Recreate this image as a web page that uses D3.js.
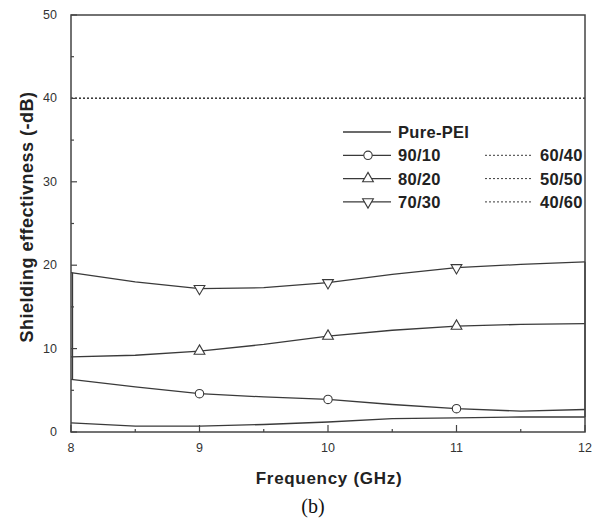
<!DOCTYPE html>
<meta charset="utf-8">
<head>
    <script src="https://d3js.org/d3.v7.min.js"></script>
    <style>
    body { margin: 0; background: #fff; }
    .curve { fill: none; stroke: #3a3a3a; stroke-width: 1.3; }
    .tick-label { font: 12.5px "Liberation Sans", Arial, sans-serif; fill: #333; }
    .axis-title { font: bold 17px "Liberation Sans", Arial, sans-serif; fill: #222; }
    .legend-text { font: bold 16.5px "Liberation Sans", Arial, sans-serif; fill: #222; }
    </style>
</head>
<body>
    <script>
    // frequency sample points (GHz)
    var freq = [8, 8.5, 9, 9.5, 10, 10.5, 11, 11.5, 12];
    var markerFreq = [9, 10, 11];

    // shielding effectiveness (-dB) for each blend
    var purePEI = [1.1, 0.7, 0.7, 0.9, 1.2, 1.6, 1.7, 1.8, 1.8];
    var s90_10 = [6.3, 5.4, 4.6, 4.2, 3.9, 3.3, 2.8, 2.5, 2.7];
    var s80_20 = [9.0, 9.2, 9.7, 10.5, 11.5, 12.2, 12.7, 12.9, 13.0];
    var s70_30 = [19.1, 18.0, 17.2, 17.3, 17.9, 18.9, 19.7, 20.1, 20.4];
    var s60_40 = [40, 40, 40, 40, 40, 40, 40, 40, 40];
    var s50_50 = [40, 40, 40, 40, 40, 40, 40, 40, 40];
    var s40_60 = [40, 40, 40, 40, 40, 40, 40, 40, 40];

    var xTicks = [8, 9, 10, 11, 12];
    var yTicks = [0, 10, 20, 30, 40, 50];

    var margin = { top: 15, right: 13, bottom: 87, left: 71 },
        width = 598 - margin.left - margin.right,
        height = 519 - margin.top - margin.bottom;

    var x = d3.scaleLinear().domain([8, 12]).range([0, width]);
    var y = d3.scaleLinear().domain([0, 50]).range([height, 0]);

    var svg = d3.select("body").append("svg")
        .attr("width", 598)
        .attr("height", 519)
        .append("g")
        .attr("transform", "translate(" + margin.left + "," + margin.top + ")");

    var line = d3.line()
        .x(function(d) { return x(d[0]); })
        .y(function(d) { return y(d[1]); });

    function pairs(vals) { return freq.map(function(f, i) { return [f, vals[i]]; }); }

    // dotted series (all sit on top of each other at 40 dB)
    [s60_40, s50_50, s40_60].forEach(function(s) {
        svg.append("path")
            .attr("class", "curve")
            .attr("stroke-dasharray", "2,2")
            .attr("stroke-width", 1)
            .attr("d", line(pairs(s)));
    });

    // solid series
    var solid = [
        { name: "Pure-PEI", vals: purePEI, marker: null },
        { name: "90/10", vals: s90_10, marker: "circle" },
        { name: "80/20", vals: s80_20, marker: "up" },
        { name: "70/30", vals: s70_30, marker: "down" }
    ];
    solid.forEach(function(s) {
        svg.append("path").attr("class", "curve").attr("d", line(pairs(s.vals)));
    });

    // the curves are joined at both ends in the original plot
    svg.append("path").attr("class", "curve")
        .attr("transform", "translate(1.5,0)")
        .attr("d", line([[8, s70_30[0]], [8, s80_20[0]], [8, s90_10[0]]]));
    svg.append("path").attr("class", "curve")
        .attr("d", line([[12, s70_30[8]], [12, s80_20[8]], [12, s90_10[8]], [12, purePEI[8]]]));

    function drawMarker(g, type, cx, cy) {
        if (type === "circle") {
            g.append("circle").attr("cx", cx).attr("cy", cy).attr("r", 4.2)
                .attr("fill", "#fff").attr("stroke", "#3a3a3a").attr("stroke-width", 1.1);
        } else if (type) {
            var sym = d3.symbol().type(d3.symbolTriangle).size(50);
            g.append("path").attr("d", sym())
                .attr("transform", "translate(" + cx + "," + cy + ")" + (type === "down" ? " rotate(180)" : ""))
                .attr("fill", "#fff").attr("stroke", "#3a3a3a").attr("stroke-width", 1.1);
        }
    }

    solid.forEach(function(s) {
        markerFreq.forEach(function(f) {
            var v = s.vals[freq.indexOf(f)];
            drawMarker(svg, s.marker, x(f), y(v));
        });
    });

    /*** axes frame ***/
    svg.append("rect")
        .attr("width", width).attr("height", height)
        .attr("fill", "none").attr("stroke", "#444").attr("stroke-width", 1.5);

    // x ticks (inward), minor every 0.5
    d3.range(8, 12.01, 0.5).forEach(function(v) {
        var major = Math.abs(v - Math.round(v)) < 1e-6;
        svg.append("line")
            .attr("x1", x(v)).attr("x2", x(v))
            .attr("y1", height).attr("y2", height - (major ? 7 : 3))
            .attr("stroke", "#444").attr("stroke-width", 1.2);
    });
    // y ticks (inward), minor every 5
    d3.range(0, 50.01, 5).forEach(function(v) {
        var major = v % 10 === 0;
        svg.append("line")
            .attr("x1", 0).attr("x2", major ? 6 : 3)
            .attr("y1", y(v)).attr("y2", y(v))
            .attr("stroke", "#444").attr("stroke-width", 1.2);
    });

    svg.selectAll(".xlab").data(xTicks).enter().append("text")
        .attr("class", "tick-label")
        .attr("x", function(d) { return x(d); })
        .attr("y", height + 20)
        .attr("text-anchor", "middle")
        .text(function(d) { return d; });

    svg.selectAll(".ylab").data(yTicks).enter().append("text")
        .attr("class", "tick-label")
        .attr("x", -14)
        .attr("y", function(d) { return y(d) + 4; })
        .attr("text-anchor", "end")
        .text(function(d) { return d; });

    /*** axis titles ***/
    svg.append("text")
        .attr("class", "axis-title")
        .attr("x", width / 2 + 1)
        .attr("y", height + 52)
        .attr("text-anchor", "middle")
        .attr("letter-spacing", "0.7")
        .text("Frequency (GHz)");

    svg.append("text")
        .attr("class", "axis-title")
        .attr("transform", "rotate(-90)")
        .attr("x", -(217 - margin.top))
        .attr("y", -38)
        .attr("text-anchor", "middle")
        .style("font-size", "18px")
        .attr("letter-spacing", "0.5")
        .text("Shielding effectivness (-dB)");

    svg.append("text")
        .attr("x", width / 2 - 15)
        .attr("y", height + 81)
        .attr("text-anchor", "middle")
        .style("font", "20px 'Liberation Serif', 'Times New Roman', serif")
        .style("fill", "#111")
        .text("(b)");

    /*** legend ***/
    var legend = [
        { name: "Pure-PEI", marker: null, dash: null, col: 0, row: 0 },
        { name: "90/10", marker: "circle", dash: null, col: 0, row: 1 },
        { name: "80/20", marker: "up", dash: null, col: 0, row: 2 },
        { name: "70/30", marker: "down", dash: null, col: 0, row: 3 },
        { name: "60/40", marker: null, dash: "2,2", col: 1, row: 1 },
        { name: "50/50", marker: null, dash: "2,2", col: 1, row: 2 },
        { name: "40/60", marker: null, dash: "2,2", col: 1, row: 3 }
    ];
    var lg = svg.append("g").attr("transform", "translate(" + (343 - margin.left) + "," + (132 - margin.top) + ")");
    legend.forEach(function(d) {
        var lx = d.col * 142, ly = d.row * 23.3;
        lg.append("line")
            .attr("x1", lx).attr("x2", lx + 48)
            .attr("y1", ly).attr("y2", ly)
            .attr("stroke", "#3a3a3a")
            .attr("stroke-width", d.dash ? 1 : 1.3)
            .attr("stroke-dasharray", d.dash);
        drawMarker(lg, d.marker, lx + 25, ly);
        lg.append("text")
            .attr("class", "legend-text")
            .attr("x", lx + 55)
            .attr("y", ly + 6)
            .attr("letter-spacing", "0.3")
            .text(d.name);
    });
    </script>
</body>
</html>
